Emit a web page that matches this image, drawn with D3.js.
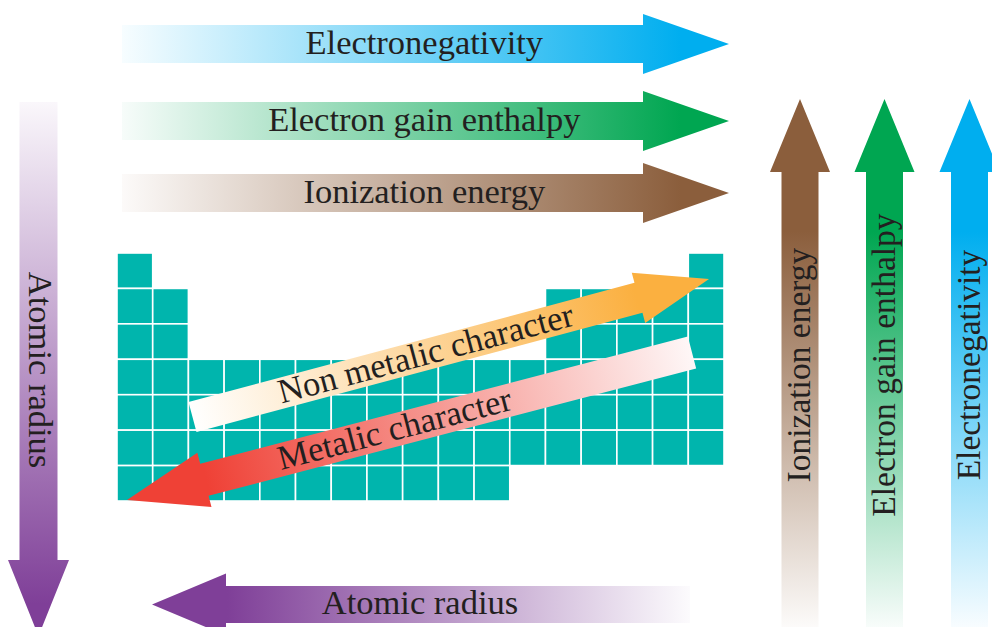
<!DOCTYPE html>
<html>
<head>
<meta charset="utf-8">
<script src="https://cdn.jsdelivr.net/npm/d3@7"></script>
<style>
  html, body { margin: 0; padding: 0; background: #ffffff; }
  svg { display: block; }
</style>
</head>
<body>
<div id="chart"></div>
<script>
// ---------------- data ----------------
// periodic table outline: groups (columns) and periods (rows) as drawn
const groups = [1, 2, 3, 4, 5, 6, 7, 8, 9, 10, 11, 12, 13, 14, 15, 16, 17];
const periods = [1, 2, 3, 4, 5, 6, 7];
// filled group ranges for each period [from, to]
const periodBlocks = [
  [[1, 1], [17, 17]],
  [[1, 2], [13, 17]],
  [[1, 2], [13, 17]],
  [[1, 17]],
  [[1, 17]],
  [[1, 17]],
  [[1, 11]]
];
// trend labels
const acrossPeriodLabels = ["Electronegativity", "Electron gain enthalpy", "Ionization energy"];
const upGroupLabels = ["Ionization energy", "Electron gain enthalpy", "Electronegativity"];
const downGroupLabel = "Atomic radius";
const leftPeriodLabel = "Atomic radius";
const diagonalLabels = ["Non metalic character", "Metalic character"];

// ---------------- styles / layout ----------------
const W = 992, H = 627;
const COL = {
  blue: "#00AEEF", green: "#00A651", brown: "#8B5E3C",
  purple: "#7F3F98", orange: "#FBB040", red: "#EF4136",
  teal: "#00B5AD", text: "#231F20"
};
const FONT = "'Liberation Serif', 'Times New Roman', serif";
const FS = 34.5;

const svg = d3.select("#chart").append("svg")
  .attr("width", W).attr("height", H)
  .attr("viewBox", `0 0 ${W} ${H}`);
const defs = svg.append("defs");

// ---------------- periodic table ----------------
const xCol = d3.scaleBand().domain(groups).range([117, 724]).padding(0);
const yRow = d3.scaleBand().domain(periods).range([253, 501]).padding(0);

const cells = [];
periodBlocks.forEach((blocks, i) => {
  blocks.forEach(([a, b]) => {
    groups.filter(g => g >= a && g <= b).forEach(g => cells.push({ p: periods[i], g }));
  });
});
svg.append("g").selectAll("rect").data(cells).join("rect")
  .attr("x", d => xCol(d.g))
  .attr("y", d => yRow(d.p))
  .attr("width", xCol.bandwidth())
  .attr("height", yRow.bandwidth())
  .attr("fill", COL.teal)
  .attr("stroke", "#ffffff")
  .attr("stroke-width", 1.6);

// ---------------- arrows ----------------
let gid = 0;
function arrowPath(L, sh, hh, hl) {
  const p = d3.path();
  p.moveTo(0, -sh);
  p.lineTo(L - hl, -sh);
  p.lineTo(L - hl, -hh);
  p.lineTo(L, 0);
  p.lineTo(L - hl, hh);
  p.lineTo(L - hl, sh);
  p.lineTo(0, sh);
  p.closePath();
  return p.toString();
}
function drawArrow(o) {
  const dx = o.tip[0] - o.tail[0], dy = o.tip[1] - o.tail[1];
  const L = Math.hypot(dx, dy);
  const ang = Math.atan2(dy, dx) * 180 / Math.PI;
  const id = "grad" + (gid++);
  const mix = d3.interpolateRgb("#ffffff", o.color);
  const g = defs.append("linearGradient").attr("id", id)
    .attr("gradientUnits", "userSpaceOnUse")
    .attr("x1", 0).attr("y1", 0).attr("x2", L).attr("y2", 0);
  const stops = o.stops || [[0, 0.03], [0.9, 1]];
  stops.forEach(([off, t]) => g.append("stop").attr("offset", off).attr("stop-color", mix(t)));
  g.append("stop").attr("offset", 1).attr("stop-color", o.color);

  svg.append("path")
    .attr("transform", `translate(${o.tail[0]},${o.tail[1]}) rotate(${ang})`)
    .attr("d", arrowPath(L, o.sh, o.hh, o.hl))
    .attr("fill", `url(#${id})`);

  if (o.label) {
    const cx = o.tail[0] + o.s * dx, cy = o.tail[1] + o.s * dy;
    let ta = ang;
    if (ta > 90.5) ta -= 180;
    if (ta < -90.5) ta += 180;
    svg.append("text")
      .attr("transform", `translate(${cx},${cy}) rotate(${ta})`)
      .attr("x", 0).attr("y", o.base || 10)
      .attr("text-anchor", "middle")
      .attr("font-family", FONT)
      .attr("font-size", o.fs || FS)
      .attr("fill", COL.text)
      .text(o.label);
  }
}

// across-period arrows (top, pointing right)
const topColors = [COL.blue, COL.green, COL.brown];
const topY = [44, 121, 193];
acrossPeriodLabels.forEach((lab, i) => drawArrow({
  tail: [122, topY[i]], tip: [729, topY[i]], sh: 19, hh: 30, hl: 86,
  color: topColors[i], label: lab, s: 0.498, stops: [[0, 0.03], [0.92, 1]]
}));

// up-group arrows (right side)
const upColors = [COL.brown, COL.green, COL.blue];
const upX = [800, 884.5, 969.5];
upGroupLabels.forEach((lab, i) => drawArrow({
  tail: [upX[i], 630], tip: [upX[i], 99], sh: 18.5, hh: 30, hl: 73,
  color: upColors[i], label: lab, s: 0.499, fs: 33.5, stops: [[0, 0.02], [0.75, 1]]
}));

// down-group arrow (left)
drawArrow({
  tail: [38.5, 102], tip: [38.5, 636], sh: 19, hh: 30.5, hl: 76,
  color: COL.purple, label: downGroupLabel, s: 0.502, stops: [[0, 0.04], [0.94, 1]]
});

// bottom arrow (pointing left)
drawArrow({
  tail: [690, 604.5], tip: [152, 604.5], sh: 18.5, hh: 31, hl: 74,
  color: COL.purple, label: leftPeriodLabel, s: 0.502, base: 9, stops: [[0, 0.02], [0.86, 1]]
});

// diagonal arrows over the table
drawArrow({
  tail: [192.5, 417], tip: [709, 279], sh: 15.5, hh: 26, hl: 73,
  color: COL.orange, label: diagonalLabels[0], s: 0.452, stops: [[0, 0], [0.86, 1]]
});
drawArrow({
  tail: [692, 352.5], tip: [127, 500], sh: 16.5, hh: 28, hl: 80,
  color: COL.red, label: diagonalLabels[1], s: 0.526, stops: [[0, 0.04], [0.86, 1]]
});
</script>
</body>
</html>
